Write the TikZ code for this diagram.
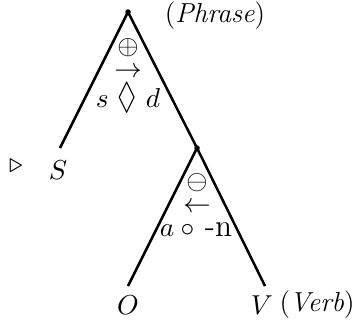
\documentclass[tikz,border=0pt]{standalone}
\usepackage{amssymb}
\usepackage{graphicx}
\begin{document}
\begin{tikzpicture}[x=0.4pt,y=-0.4pt,
  branch/.style={line width=1pt},
  dotnode/.style={circle,fill=black,inner sep=0pt,minimum size=2.2pt},
  lab/.style={inner sep=0pt,anchor=center,font=\fontsize{11}{13}\selectfont},
  sym/.style={inner sep=0pt,anchor=center,font=\fontsize{10.5}{12}\selectfont}]
\useasboundingbox (0,0) rectangle (358,329);
\node[dotnode] (root) at (128,12) {};
\node[dotnode] (mid) at (197,148) {};
\coordinate (sEnd) at (60,148);
\coordinate (oEnd) at (128,286);
\coordinate (vEnd) at (265,286);
\draw[branch] (root.center) -- (sEnd);
\draw[branch] (root.center) -- (mid.center);
\draw[branch] (mid.center) -- (oEnd);
\draw[branch] (mid.center) -- (vEnd);
\node[lab] (phrase) at (215,16) {(\textit{Phrase})};
\node[sym] (oplus) at (128,48) {$\oplus$};
\node[sym] (rarr) at (128,72) {$\rightarrow$};
\node[lab] (sd) at (128,98) {$s\ \raisebox{-0.5pt}{\scalebox{1.05}[1.35]{$\lozenge$}}\ d$};
\node[sym] (ominus) at (197,183) {$\ominus$};
\node[sym] (larr) at (197,207) {$\leftarrow$};
\node[lab] (an) at (196,230) {$a\circ{}$\,{\fontsize{12.5}{14}\selectfont -n}};
\node[lab] (S) at (58,170) {$S$};
\node[sym] (tri) at (16,166) {$\triangleright$};
\node[lab] (O) at (128,305) {$O$};
\node[lab] (V) at (262,305) {$V$};
\node[lab] (verb) at (317,305) {(\textit{Verb})};
\end{tikzpicture}
\end{document}
